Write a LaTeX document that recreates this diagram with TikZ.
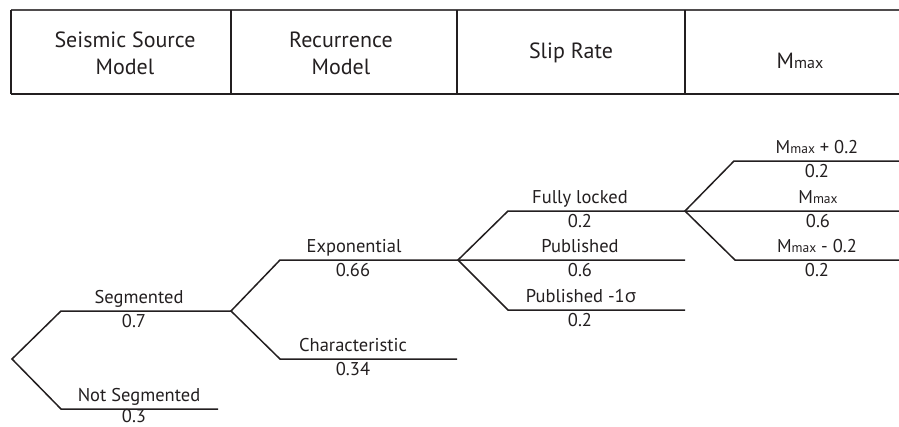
\documentclass[tikz,border=0pt]{standalone}
\usepackage{fontspec}
\setmainfont{PT Sans}
\newfontfamily\grk{Open Sans}
\definecolor{ink}{HTML}{231F20}
\newcommand{\MmxHead}{M{\fontsize{16}{16}\selectfont max}}
\newcommand{\Mmx}{M{\fontsize{13.5}{13.5}\selectfont max}}
\begin{document}
\begin{tikzpicture}[x=1pt,y=-1pt,
  line width=1.4pt, draw=ink,
  lbl/.style={font=\fontsize{18.5}{20}\selectfont, text=ink, inner sep=0pt, anchor=base},
  hdr/.style={font=\fontsize{22}{26.5}\selectfont, text=ink, inner sep=0pt, align=center, anchor=base},
  branch/.style={draw=ink, line width=1.5pt, line join=miter}]
\useasboundingbox (0,0) rectangle (899,426);
% header table
\coordinate (tl) at (11,10);
\coordinate (tr) at (899,10);
\coordinate (bl) at (11,94);
\coordinate (br) at (899,94);
\draw[branch, line width=1.1pt, draw=ink!80] (tl) -- (tr);
\draw[branch, line width=1.7pt] (bl) -- (br);
\foreach \x [count=\i] in {11,231,457,685}{
  \coordinate (vt\i) at (\x,10);
  \coordinate (vb\i) at (\x,94);
  \draw[branch, line width=1.4pt] (vt\i) -- (vb\i);
}
\node[hdr] (h1) at (125,74) {Seismic Source\\Model};
\node[hdr] (h2) at (341,74) {Recurrence\\Model};
\node[hdr] (h3) at (571,58) {Slip Rate};
\node[hdr] (h4) at (800,68) {\MmxHead};
% tree points
\coordinate (root) at (12,359);
\coordinate (segA) at (61,311);   \coordinate (segB) at (231,311);
\coordinate (nsA) at (61,409);    \coordinate (nsB) at (218,409);
\coordinate (expA) at (280,260);  \coordinate (expB) at (458,260);
\coordinate (chA) at (280,359);   \coordinate (chB) at (457,359);
\coordinate (flA) at (508,211);   \coordinate (flB) at (685,211);
\coordinate (pubB) at (685,260);
\coordinate (p1A) at (508,310);   \coordinate (p1B) at (685,310);
\coordinate (mpA) at (734,161);   \coordinate (mpB) at (899,161);
\coordinate (mB) at (899,211);
\coordinate (mmA) at (735,260);   \coordinate (mmB) at (899,260);
% branches
\draw[branch] (segB) -- (segA) -- (root) -- (nsA) -- (nsB);
\draw[branch] (chB) -- (chA) -- (segB) -- (expA) -- (expB) -- (pubB);
\draw[branch] (mB) -- (flB) -- (flA) -- (expB) -- (p1A) -- (p1B);
\draw[branch] (mpB) -- (mpA) -- (flB) -- (mmA) -- (mmB);
% labels
\node[lbl] (lseg) at (139,303) {Segmented};
\node[lbl] (pseg) at (134,327) {0.7};
\node[lbl] (lns) at (139,401) {Not Segmented};
\node[lbl] (pns) at (134,422.5) {0.3};
\node[lbl] (lexp) at (354,252) {Exponential};
\node[lbl] (pexp) at (353,276) {0.66};
\node[lbl] (lch) at (353,351) {Characteristic};
\node[lbl] (pch) at (353,375) {0.34};
\node[lbl] (lfl) at (580,203) {Fully locked};
\node[lbl] (pfl) at (580,227) {0.2};
\node[lbl] (lpub) at (580,252) {Published};
\node[lbl] (ppub) at (580,276) {0.6};
\node[lbl] (lp1) at (581,302) {Published -1{\grk σ}};
\node[lbl] (pp1) at (580,326) {0.2};
\node[lbl] (lmp) at (817,153) {\Mmx{} + 0.2};
\node[lbl] (pmp) at (817,177) {0.2};
\node[lbl] (lm) at (818,203) {\Mmx};
\node[lbl] (pm) at (818,227) {0.6};
\node[lbl] (lmm) at (817,252) {\Mmx{} - 0.2};
\node[lbl] (pmm) at (817,276) {0.2};
\end{tikzpicture}
\end{document}
